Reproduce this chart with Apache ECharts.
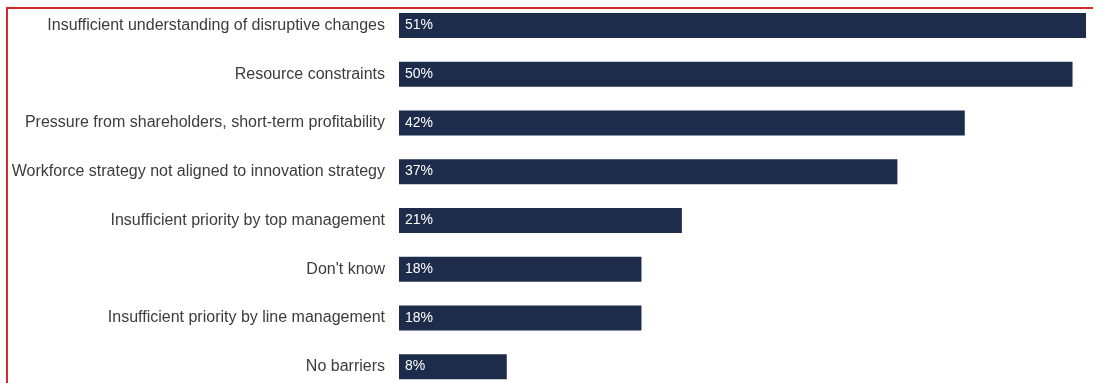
<!DOCTYPE html>
<html>
<head>
<meta charset="utf-8">
<script src="https://cdn.jsdelivr.net/npm/echarts@6/dist/echarts.min.js"></script>
<style>
html,body{margin:0;padding:0;background:#fff;overflow:hidden;}
#chart{width:1102px;height:392px;}
</style>
</head>
<body>
<div id="chart"></div>
<script>
const categories = [
  "Insufficient understanding of disruptive changes",
  "Resource constraints",
  "Pressure from shareholders, short-term profitability",
  "Workforce strategy not aligned to innovation strategy",
  "Insufficient priority by top management",
  "Don't know",
  "Insufficient priority by line management",
  "No barriers"
];
const values = [51, 50, 42, 37, 21, 18, 18, 8];

const chart = echarts.init(document.getElementById('chart'));
chart.setOption({
  animation: false,
  backgroundColor: '#ffffff',
  grid: { left: 399, right: 16, top: 1, bottom: 1, containLabel: false },
  xAxis: { type: 'value', min: 0, max: 51, show: false },
  yAxis: {
    type: 'category', data: categories, inverse: true,
    axisLine: { show: false }, axisTick: { show: false },
    axisLabel: { margin: 14, color: '#3c3c3c', fontSize: 16, fontFamily: 'Liberation Sans, Arial, sans-serif' }
  },
  series: [{
    type: 'bar', data: values, barWidth: 25,
    itemStyle: { color: '#1d2c4b' },
    label: {
      show: true, position: 'insideLeft', distance: 6,
      formatter: '{c}%', color: '#ffffff', fontSize: 14,
      fontFamily: 'Liberation Sans, Arial, sans-serif'
    }
  }],
  graphic: [
    { type: 'line', shape: { x1: 6, y1: 8, x2: 1093, y2: 8 }, style: { stroke: '#d42a2a', lineWidth: 2 }, silent: true },
    { type: 'line', shape: { x1: 7, y1: 7, x2: 7, y2: 392 }, style: { stroke: '#d42a2a', lineWidth: 2 }, silent: true }
  ]
});
</script>
</body>
</html>
